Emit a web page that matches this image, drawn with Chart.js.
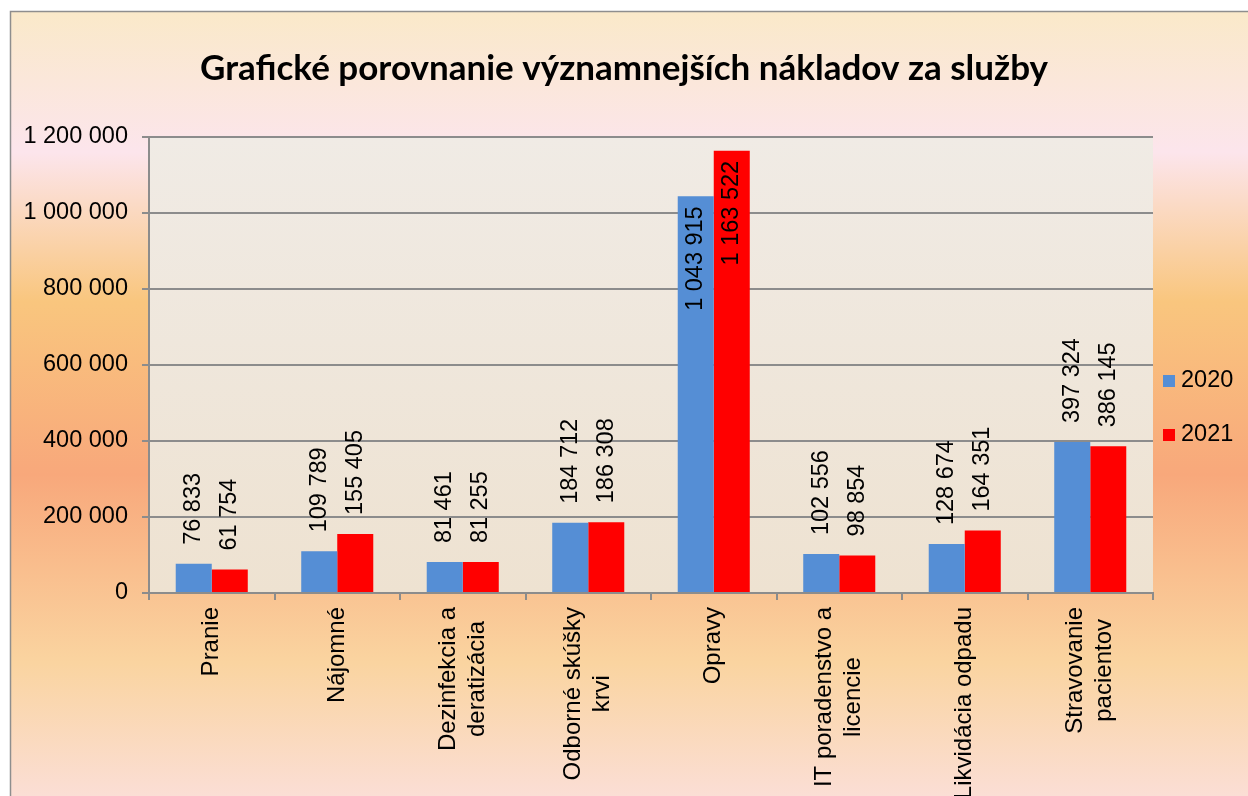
<!DOCTYPE html>
<html>
<head>
<meta charset="utf-8">
<title>Grafické porovnanie nákladov</title>
<script src="https://cdn.jsdelivr.net/npm/chart.js@4.4.1/dist/chart.umd.min.js"></script>
<style>
    html, body { margin: 0; padding: 0; background: #fff; }
    #wrap { width: 1248px; height: 796px; }
</style>
</head>
<body>
<div id="wrap"><canvas id="costChart" width="1248" height="796"></canvas></div>
<script>
// Données du graphique
const categories = [
    'Pranie',
    'Nájomné',
    ['Dezinfekcia a', 'deratizácia'],
    ['Odborné skúšky', 'krvi'],
    'Opravy',
    ['IT poradenstvo a', 'licencie'],
    'Likvidácia odpadu',
    ['Stravovanie', 'pacientov']
];
const values2020 = [76833, 109789, 81461, 184712, 1043915, 102556, 128674, 397324];
const values2021 = [61754, 155405, 81255, 186308, 1163522, 98854, 164351, 386145];
const seriesNames = ['2020', '2021'];
const yTicks = [0, 200000, 400000, 600000, 800000, 1000000, 1200000];

const FONT = "'Liberation Sans', Arial, sans-serif";
const gridGray = '#8c8c8c';

// format "1 200 000"
function fmt(v) {
    return String(v).replace(/\B(?=(\d{3})+(?!\d))/g, ' ');
}

// Fond dégradé + cadre + zone de traçage
const backgroundPlugin = {
    id: 'background',
    beforeDraw(chart) {
        const ctx = chart.ctx;
        const a = chart.chartArea;
        ctx.save();
        ctx.fillStyle = '#ffffff';
        ctx.fillRect(0, 0, chart.width, chart.height);

        const g = ctx.createLinearGradient(0, 11, 0, 796);
        g.addColorStop(0, '#fae9c9');
        g.addColorStop(0.18, '#fce5ec');
        g.addColorStop(0.37, '#f9c67e');
        g.addColorStop(0.59, '#f8a87b');
        g.addColorStop(0.83, '#fad4a0');
        g.addColorStop(1, '#fbded5');
        ctx.fillStyle = g;
        ctx.fillRect(10, 11, chart.width - 10, chart.height - 11);

        ctx.strokeStyle = '#8e8e8e';
        ctx.lineWidth = 1.5;
        ctx.beginPath();
        ctx.moveTo(10.5, chart.height);
        ctx.lineTo(10.5, 11.5);
        ctx.lineTo(chart.width, 11.5);
        ctx.stroke();

        const pg = ctx.createLinearGradient(0, a.top, 0, a.bottom);
        pg.addColorStop(0, '#f0ebe5');
        pg.addColorStop(1, '#eee2d1');
        ctx.fillStyle = pg;
        ctx.fillRect(a.left, a.top, a.right - a.left, a.bottom - a.top);
        ctx.restore();
    }
};

// Étiquettes de valeurs verticales
const valueLabelsPlugin = {
    id: 'valueLabels',
    afterDatasetsDraw(chart) {
        const ctx = chart.ctx;
        const top = chart.chartArea.top;
        ctx.save();
        ctx.font = '23.5px ' + FONT;
        ctx.fillStyle = '#000';
        ctx.textBaseline = 'middle';
        chart.data.datasets.forEach((ds, i) => {
            chart.getDatasetMeta(i).data.forEach((bar, j) => {
                const txt = fmt(ds.data[j]);
                const w = ctx.measureText(txt).width;
                ctx.save();
                ctx.translate(bar.x, bar.y);
                ctx.rotate(-Math.PI / 2);
                if (bar.y - 19 - w < top) {
                    ctx.textAlign = 'right';
                    ctx.fillText(txt, -10, 0);
                } else {
                    ctx.textAlign = 'left';
                    ctx.fillText(txt, 19, 0);
                }
                ctx.restore();
            });
        });
        ctx.restore();
    }
};

// Libellés des catégories (verticaux, lignes centrées)
const categoryLabelsPlugin = {
    id: 'categoryLabels',
    afterDraw(chart) {
        const ctx = chart.ctx;
        const xScale = chart.scales.x;
        const lineH = 29;
        const labelTop = xScale.top + 14;
        ctx.save();
        ctx.font = '24px ' + FONT;
        ctx.fillStyle = '#000';
        ctx.textAlign = 'center';
        ctx.textBaseline = 'middle';
        chart.data.labels.forEach((lbl, i) => {
            const lines = Array.isArray(lbl) ? lbl : [lbl];
            const maxW = Math.max(...lines.map(t => ctx.measureText(t).width));
            const cx = xScale.getPixelForTick(i);
            const cy = labelTop + maxW / 2;
            lines.forEach((t, k) => {
                ctx.save();
                ctx.translate(cx + (k - (lines.length - 1) / 2) * lineH, cy);
                ctx.rotate(-Math.PI / 2);
                ctx.fillText(t, 0, 0);
                ctx.restore();
            });
        });
        ctx.restore();
    }
};

// Légende à droite
const legendPlugin = {
    id: 'sideLegend',
    afterDraw(chart) {
        const ctx = chart.ctx;
        ctx.save();
        ctx.font = '23.5px ' + FONT;
        ctx.textBaseline = 'middle';
        ctx.textAlign = 'left';
        chart.data.datasets.forEach((ds, i) => {
            const y = 381 + i * 54;
            ctx.fillStyle = ds.backgroundColor;
            ctx.fillRect(1163, y - 6, 12, 12);
            ctx.fillStyle = '#000';
            ctx.fillText(ds.label, 1181, y);
        });
        ctx.restore();
    }
};

const ctx = document.getElementById('costChart').getContext('2d');

const costChart = new Chart(ctx, {
    type: 'bar',
    data: {
        labels: categories,
        datasets: [{
            label: seriesNames[0],
            data: values2020,
            backgroundColor: '#558ed5',
            categoryPercentage: 0.574,
            barPercentage: 1
        }, {
            label: seriesNames[1],
            data: values2021,
            backgroundColor: '#ff0000',
            categoryPercentage: 0.574,
            barPercentage: 1
        }]
    },
    options: {
        responsive: false,
        animation: false,
        layout: { padding: 0 },
        plugins: {
            legend: { display: false },
            tooltip: { enabled: false },
            title: {
                display: true,
                text: 'Grafické porovnanie významnejších nákladov za služby',
                color: '#000',
                font: { family: "Lato, 'Open Sans', sans-serif", size: 35, weight: 'bold', lineHeight: 1.2 },
                padding: { top: 47.5, bottom: 47.5 }
            }
        },
        scales: {
            x: {
                grid: {
                    display: true,
                    offset: true,
                    drawOnChartArea: false,
                    color: gridGray,
                    lineWidth: 2,
                    tickLength: 7
                },
                border: { display: true, color: gridGray, width: 2 },
                ticks: { display: false, autoSkip: false },
                afterFit: (s) => { s.height = 203; }
            },
            y: {
                min: 0,
                max: 1200000,
                afterBuildTicks: (s) => { s.ticks = yTicks.map(v => ({ value: v })); },
                grid: {
                    color: gridGray,
                    lineWidth: 2,
                    tickLength: 7
                },
                border: { display: true, color: gridGray, width: 2 },
                ticks: {
                    color: '#000',
                    font: { family: FONT, size: 23.5 },
                    padding: 14,
                    callback: (v) => fmt(v)
                },
                afterFit: (s) => { s.width = 149; }
            },
            spacer: {
                type: 'linear',
                position: 'right',
                display: true,
                grid: { display: false },
                border: { display: false },
                ticks: { display: false },
                afterFit: (s) => { s.width = 95; }
            }
        }
    },
    plugins: [backgroundPlugin, valueLabelsPlugin, categoryLabelsPlugin, legendPlugin]
});
</script>
</body>
</html>
